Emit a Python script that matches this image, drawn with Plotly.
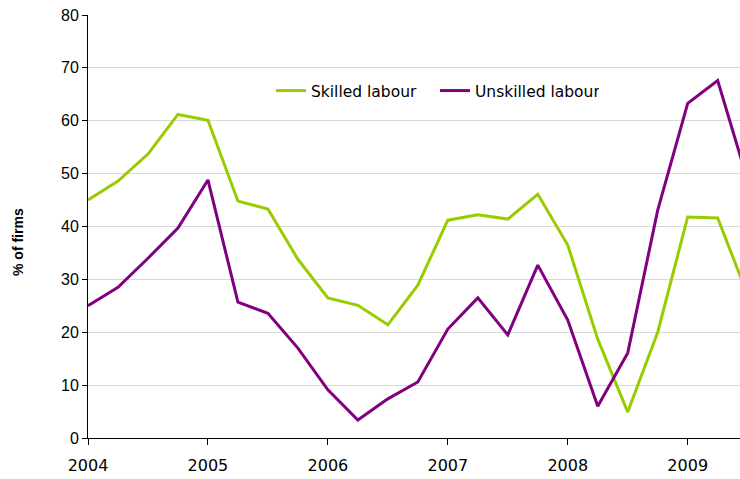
import plotly.graph_objects as go

quarters = [2004.0, 2004.25, 2004.5, 2004.75,
            2005.0, 2005.25, 2005.5, 2005.75,
            2006.0, 2006.25, 2006.5, 2006.75,
            2007.0, 2007.25, 2007.5, 2007.75,
            2008.0, 2008.25, 2008.5, 2008.75,
            2009.0, 2009.25, 2009.5]

skilled = [45.0, 48.6, 53.7, 61.2,
           60.1, 44.8, 43.3, 33.8,
           26.5, 25.1, 21.4, 28.9,
           41.2, 42.2, 41.4, 46.1,
           36.5, 18.7, 4.9, 20.0,
           41.8, 41.6, 27.0]

unskilled = [25.0, 28.5, 34.0, 39.7,
             48.8, 25.7, 23.6, 17.0,
             9.1, 3.4, 7.4, 10.6,
             20.6, 26.5, 19.5, 32.7,
             22.3, 6.0, 16.1, 43.1,
             63.3, 67.6, 48.7]

year_ticks = [2004, 2005, 2006, 2007, 2008, 2009]
year_labels = ["2004", "2005", "2006", "2007", "2008", "2009"]
y_ticks = [0, 10, 20, 30, 40, 50, 60, 70, 80]

fig = go.Figure()
fig.add_trace(go.Scatter(x=quarters, y=skilled, mode="lines", name="Skilled labour",
                         line=dict(color="#99CC00", width=3)))
fig.add_trace(go.Scatter(x=quarters, y=unskilled, mode="lines", name="Unskilled labour",
                         line=dict(color="#800080", width=3)))

fig.update_layout(
    width=740, height=479,
    margin=dict(l=88, r=0, t=15, b=41),
    paper_bgcolor="white", plot_bgcolor="white",
    showlegend=True,
    legend=dict(orientation="h", x=(271 - 88) / 652, y=(438 - 91) / 423,
                xanchor="left", yanchor="middle",
                font=dict(family="DejaVu Sans", size=15.5, color="#000"),
                bgcolor="rgba(0,0,0,0)", itemwidth=30,
                entrywidth=119, entrywidthmode="pixels"),
    xaxis=dict(range=[2004, 2009.436], tickvals=year_ticks, ticktext=year_labels,
               showgrid=False, showline=True, linecolor="#000", linewidth=1,
               ticks="outside", ticklen=6, tickcolor="#000", zeroline=False,
               ticklabelstandoff=7,
               tickfont=dict(family="DejaVu Sans", size=16, color="#000")),
    yaxis=dict(range=[0, 80], tickvals=y_ticks, showgrid=True, gridcolor="#d9d9d9",
               gridwidth=1, showline=True, linecolor="#000", linewidth=1,
               ticks="outside", ticklen=5, tickcolor="#000", zeroline=False,
               tickfont=dict(family="Liberation Sans", size=16, color="#000")),
    annotations=[dict(text="<b>% of firms</b>", textangle=-90, showarrow=False,
                      xref="paper", yref="paper", x=(18 - 88) / 652, y=(438 - 242) / 423,
                      xanchor="center", yanchor="middle",
                      font=dict(family="Liberation Sans", size=14, color="#000"))],
)

fig.write_html("out.html")
